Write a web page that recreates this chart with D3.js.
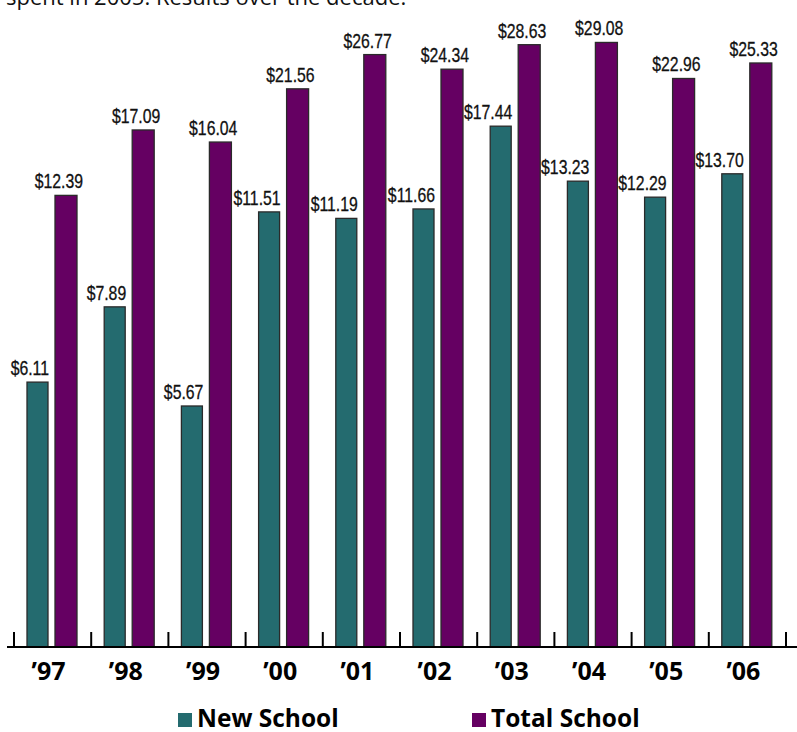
<!DOCTYPE html>
<html>
<head>
<meta charset="utf-8">
<script src="https://cdn.jsdelivr.net/npm/d3@7/dist/d3.min.js"></script>
<style>
  html, body { margin: 0; padding: 0; background: #fff; }
  svg { display: block; }
</style>
</head>
<body>
<script>
// ---- Data ----
const years = ["’97", "’98", "’99", "’00", "’01", "’02", "’03", "’04", "’05", "’06"];
const newSchool = [6.11, 7.89, 5.67, 11.51, 11.19, 11.66, 17.44, 13.23, 12.29, 13.70];
const totalSchool = [12.39, 17.09, 16.04, 21.56, 26.77, 24.34, 28.63, 29.08, 22.96, 25.33];
const seriesNames = ["New School", "Total School"];
const introText = "spent in 2005. Results over the decade.";

// ---- Layout ----
const W = 797, H = 732;
const baseY = 647;
const colors = { teal: "#246b6f", purple: "#650062" };

const svg = d3.select("body").append("svg").attr("width", W).attr("height", H);

svg.append("text")
  .attr("x", 6).attr("y", 5)
  .attr("font-family", "'Open Sans', sans-serif")
  .attr("font-size", 22)
  .attr("fill", "#111")
  .text(introText);

const x = d3.scaleBand().domain(years).range([14, 786]).paddingInner(0).paddingOuter(0);
// bar heights in the original are drawn on a compressed (non-linear) scale
const y = d3.scalePow().exponent(-0.5).domain([3.02, 30]).range([baseY, 38]);

const data = years.map((yr, i) => ({ yr, a: newSchool[i], b: totalSchool[i] }));

const g = svg.append("g");

g.selectAll("rect.ns").data(data).join("rect")
  .attr("class", "ns")
  .attr("x", d => x(d.yr) + 13)
  .attr("width", 21)
  .attr("y", d => y(d.a))
  .attr("height", d => baseY - y(d.a))
  .attr("fill", colors.teal)
  .attr("stroke", "#2a2a2a").attr("stroke-width", 1.3);

g.selectAll("rect.ts").data(data).join("rect")
  .attr("class", "ts")
  .attr("x", d => x(d.yr) + 41)
  .attr("width", 22)
  .attr("y", d => y(d.b))
  .attr("height", d => baseY - y(d.b))
  .attr("fill", colors.purple)
  .attr("stroke", "#2a2a2a").attr("stroke-width", 1.3);

const labelFont = "'Liberation Sans', Arial, sans-serif";
const squeeze = 0.79;
function styleLabel(sel) {
  sel.attr("text-anchor", "end")
    .attr("font-family", labelFont).attr("font-size", 20)
    .attr("fill", "#111")
    .attr("stroke", "#111").attr("stroke-width", 0.3);
}
g.selectAll("text.nsl").data(data).join("text")
  .attr("class", "nsl")
  .attr("transform", d => `translate(${x(d.yr) + 13 + 21 + 1},${y(d.a) - 7}) scale(${squeeze},1)`)
  .call(styleLabel)
  .text(d => "$" + d.a.toFixed(2));

g.selectAll("text.tsl").data(data).join("text")
  .attr("class", "tsl")
  .attr("transform", d => `translate(${x(d.yr) + 41 + 22 + 6},${y(d.b) - 7}) scale(${squeeze},1)`)
  .call(styleLabel)
  .text(d => "$" + d.b.toFixed(2));

// Axis
const axis = svg.append("g");
axis.append("line")
  .attr("x1", 7).attr("x2", W).attr("y1", baseY).attr("y2", baseY)
  .attr("stroke", "#000").attr("stroke-width", 2);

const tickXs = years.map(yr => x(yr)).concat([x.range()[1]]);
axis.selectAll("line.tick").data(tickXs).join("line")
  .attr("class", "tick")
  .attr("x1", d => d).attr("x2", d => d)
  .attr("y1", baseY - 15).attr("y2", baseY)
  .attr("stroke", "#000").attr("stroke-width", 2);

axis.selectAll("text.yr").data(years).join("text")
  .attr("class", "yr")
  .attr("x", d => x(d) + x.bandwidth() / 2 - 4)
  .attr("y", 680)
  .attr("text-anchor", "middle")
  .attr("font-family", "'Open Sans', sans-serif")
  .attr("font-weight", "bold")
  .attr("font-size", 25)
  .attr("fill", "#000")
  .text(d => d);

// Legend
const legendItems = [
  { name: seriesNames[0], color: colors.teal, x: 178 },
  { name: seriesNames[1], color: colors.purple, x: 472 }
];
const lg = svg.append("g");
lg.selectAll("rect").data(legendItems).join("rect")
  .attr("x", d => d.x).attr("y", 713)
  .attr("width", 14).attr("height", 14)
  .attr("fill", d => d.color);
lg.selectAll("text").data(legendItems).join("text")
  .attr("x", d => d.x + 19).attr("y", 727)
  .attr("font-family", "'Open Sans', sans-serif")
  .attr("font-weight", "bold")
  .attr("font-size", 24.5)
  .attr("fill", "#000")
  .text(d => d.name);
</script>
</body>
</html>
